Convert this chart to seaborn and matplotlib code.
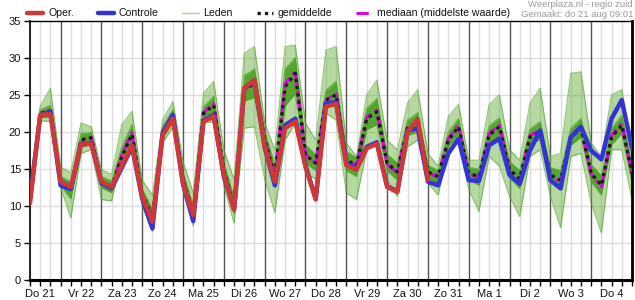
import numpy as np
import pandas as pd
import matplotlib
matplotlib.use("Agg")
import matplotlib.pyplot as plt
from matplotlib.lines import Line2D
import seaborn as sns

sns.set_theme(style="white")
plt.rcParams["font.family"] = ["Liberation Sans", "DejaVu Sans"]

# ---------------- data (6-hourly, from do 21 aug 06:00) ----------------
times = pd.date_range("2025-08-21 06:00", periods=60, freq="6h")

oper = [10.4, 22.3, 22.4, 13.3, 12.6, 18.3, 18.4, 13.3, 12.6, 15.5,
        18.2, 11.3, 7.9, 19.6, 21.8, 13.0, 8.8, 21.4, 22.1, 14.2,
        9.5, 25.9, 27.0, 18.0, 13.3, 20.5, 21.4, 15.3, 10.9, 23.4,
        23.8, 15.5, 14.9, 17.8, 18.4, 12.6, 11.9, 20.0, 21.7, 13.5]

controle = [11.0, 22.2, 22.8, 12.8, 12.3, 18.3, 18.5, 13.1, 12.4, 15.2,
            18.0, 11.0, 7.0, 19.8, 22.3, 13.0, 8.0, 21.5, 22.3, 14.0,
            9.6, 25.8, 27.0, 17.9, 12.8, 20.9, 21.8, 15.5, 11.0, 23.9,
            24.0, 15.8, 15.1, 18.0, 18.6, 12.7, 12.0, 20.2, 20.5, 13.3,
            12.8, 17.1, 19.1, 13.5, 13.4, 18.2, 19.1, 14.2, 13.0, 17.5,
            20.2, 13.5, 12.4, 19.3, 20.7, 17.5, 16.3, 21.8, 24.3, 17.8]

gemiddelde = [10.8, 22.5, 22.8, 13.0, 12.2, 18.9, 19.2, 13.3, 12.5, 16.7,
              19.7, 11.5, 8.6, 20.0, 22.2, 13.5, 9.0, 22.5, 23.6, 14.8,
              9.9, 25.8, 26.5, 18.9, 14.1, 26.1, 27.9, 16.9, 15.8, 24.3,
              25.0, 16.2, 15.5, 21.8, 22.7, 15.8, 14.6, 20.5, 21.3, 14.6,
              14.0, 18.9, 20.7, 14.4, 14.0, 19.6, 20.7, 14.9, 13.7, 19.3,
              20.0, 14.2, 13.5, 19.3, 20.5, 14.4, 12.8, 19.3, 20.9, 14.4]

mediaan = [10.8, 22.5, 22.9, 13.0, 12.3, 19.0, 19.3, 13.3, 12.5, 16.9,
           19.9, 11.5, 8.4, 20.1, 22.3, 13.4, 8.8, 22.6, 23.8, 14.8,
           9.8, 25.9, 26.7, 19.0, 14.0, 26.5, 28.2, 17.0, 15.7, 24.4,
           25.1, 16.2, 15.4, 22.0, 22.9, 15.7, 14.5, 20.6, 21.4, 14.5,
           13.9, 19.1, 20.9, 14.3, 13.9, 19.8, 20.9, 14.8, 13.5, 19.5,
           20.2, 14.1, 13.3, 19.5, 20.7, 14.3, 12.6, 19.5, 21.1, 14.3]

leden_min = [10.3, 21.5, 21.4, 12.5, 8.4, 17.1, 17.6, 10.9, 10.7, 16.7,
             18.9, 10.0, 6.6, 18.5, 20.7, 12.0, 7.3, 21.2, 21.4, 12.7,
             7.7, 20.5, 20.7, 13.6, 9.1, 18.9, 21.2, 14.5, 13.6, 22.5,
             21.6, 11.8, 10.9, 17.6, 18.9, 13.6, 11.3, 18.0, 18.9, 13.1,
             11.5, 17.6, 18.9, 12.2, 9.3, 16.7, 15.4, 11.3, 8.6, 16.7,
             17.6, 11.3, 7.1, 16.7, 17.1, 10.4, 6.4, 17.6, 17.6, 10.9]

leden_max = [13.3, 23.5, 25.9, 15.3, 14.5, 21.2, 20.7, 14.9, 14.3, 21.0,
             22.8, 13.5, 11.5, 21.6, 24.1, 16.0, 11.8, 25.2, 26.8, 17.6,
             13.6, 30.6, 31.5, 21.2, 17.6, 31.5, 31.7, 21.2, 18.9, 31.0,
             31.5, 18.5, 16.7, 25.0, 27.0, 18.9, 17.6, 23.9, 25.7, 17.1,
             15.4, 22.1, 23.7, 16.2, 16.2, 23.7, 25.0, 17.6, 16.2, 23.9,
             25.9, 16.7, 17.1, 27.9, 28.1, 18.5, 16.7, 25.0, 25.7, 16.7]

leden_p25 = [10.5, 21.9, 22.0, 12.8, 11.0, 18.0, 18.3, 12.5, 11.8, 15.8,
             18.6, 10.8, 7.6, 19.2, 21.3, 12.8, 8.3, 21.8, 22.5, 13.8,
             9.0, 24.2, 24.6, 17.4, 12.8, 23.5, 25.2, 15.8, 14.8, 23.4,
             23.5, 14.8, 14.0, 20.3, 21.0, 14.8, 13.5, 19.5, 20.0, 13.8,
             13.1, 18.0, 19.8, 13.6, 12.8, 18.5, 19.5, 13.8, 12.4, 18.3,
             19.0, 13.3, 12.2, 18.2, 19.3, 13.3, 11.5, 18.3, 19.8, 13.2]

leden_p75 = [12.0, 23.0, 23.6, 14.0, 13.3, 19.8, 19.9, 14.0, 13.4, 18.0,
             21.0, 12.3, 9.6, 20.8, 23.0, 14.6, 10.0, 23.4, 24.8, 15.8,
             11.2, 27.6, 28.5, 20.2, 15.5, 28.5, 30.0, 18.3, 16.9, 25.6,
             26.8, 17.4, 16.5, 23.2, 24.5, 17.0, 15.8, 21.6, 22.6, 15.5,
             14.8, 20.0, 21.8, 15.2, 15.0, 20.8, 21.9, 16.0, 14.8, 20.4,
             21.4, 15.2, 14.8, 20.5, 21.8, 15.6, 14.1, 20.5, 22.2, 15.6]

day_labels = ["Do 21", "Vr 22", "Za 23", "Zo 24", "Ma 25", "Di 26", "Wo 27",
              "Do 28", "Vr 29", "Za 30", "Zo 31", "Ma 1", "Di 2", "Wo 3", "Do 4"]

# ---------------- figure ----------------
W, H = 635, 300
fig = plt.figure(figsize=(W / 100, H / 100), dpi=100)
ax = fig.add_axes([30 / W, 19.6 / H, 602 / W, 259.8 / H])

x_end = pd.Timestamp("2025-09-05 00:00")
ax.set_xlim(times[0], x_end)
ax.set_ylim(0, 35)

# grid
for y in range(5, 35, 5):
    ax.axhline(y, color="#dcdcdc", lw=1, zorder=0)
tick_times = pd.date_range(times[0], x_end, freq="6h")
for t in tick_times:
    ax.axvline(t, color="#555555" if t.hour == 0 else "#dcdcdc", lw=1, zorder=0.5)

# ensemble members (Leden) as bands
ax.fill_between(times, leden_min, leden_max, color="#6cb544", alpha=0.5, lw=0, zorder=1)
ax.fill_between(times, leden_p25, leden_p75, color="#3c9a14", alpha=0.8, lw=0, zorder=1.1)
for arr, a in [(leden_min, 0.6), (leden_max, 0.6), (leden_p25, 0.7), (leden_p75, 0.7)]:
    sns.lineplot(x=times, y=arr, color="#4aa020", lw=0.8, alpha=a, ax=ax, zorder=1.2)

df = pd.DataFrame({"tijd": times, "gemiddelde": gemiddelde, "mediaan": mediaan,
                   "controle": controle})
sns.lineplot(data=df, x="tijd", y="mediaan", color="#e000e0", lw=2.2,
             linestyle=(0, (4, 1.5, 1, 1.5)), ax=ax, zorder=3)
sns.lineplot(data=df, x="tijd", y="gemiddelde", color="#1a1a1a", lw=2.4,
             linestyle=(0, (1, 1.2)), ax=ax, zorder=3.1)
sns.lineplot(data=df, x="tijd", y="controle", color="#3434d4", lw=3.2, ax=ax, zorder=4)
sns.lineplot(x=times[:len(oper)], y=oper, color="#d03838", lw=3.2, ax=ax, zorder=5)

# axes styling
ax.set_xlabel("")
ax.set_ylabel("")
ax.set_yticks(range(0, 36, 5))
ax.set_yticklabels([str(v) for v in range(0, 36, 5)], fontsize=8, color="#111111")
ax.set_xticks(tick_times)
lbls = []
k = 0
for t in tick_times:
    if t.hour == 12:
        lbls.append(day_labels[k])
        k += 1
    else:
        lbls.append("")
ax.set_xticklabels(lbls, fontsize=8, color="#111111")
ax.tick_params(axis="both", which="major", direction="out", length=4, width=1,
               color="black", pad=2.5, bottom=True, left=True)
for side, lw in [("left", 1.2), ("top", 1.0), ("right", 2.0), ("bottom", 2.2)]:
    ax.spines[side].set_visible(True)
    ax.spines[side].set_color("black")
    ax.spines[side].set_linewidth(lw)

# legend
handles = [
    Line2D([], [], color="#d03838", lw=3.2),
    Line2D([], [], color="#3434d4", lw=3.2),
    Line2D([], [], color="#a8d094", lw=1.0),
    Line2D([], [], color="#1a1a1a", lw=2.4, linestyle=(0, (1, 1.2))),
    Line2D([], [], color="#e000e0", lw=2.2, linestyle=(0, (4, 1.5, 1, 1.5))),
]
labels = ["Oper.", "Controle", "Leden", "gemiddelde", "mediaan (middelste waarde)"]
fig.legend(handles, labels, loc="center left", bbox_to_anchor=(27 / W, 1 - 13.5 / H),
           ncol=5, frameon=False, fontsize=7.6, handlelength=1.55, handletextpad=0.45,
           columnspacing=2.25, borderaxespad=0, borderpad=0, labelcolor="#111111")

fig.text(633 / W, 1 - 4.5 / H, "Weerplaza.nl - regio zuid", ha="right", va="center",
         fontsize=6.8, color="#999999")
fig.text(633 / W, 1 - 14.5 / H, "Gemaakt: do 21 aug 09:01", ha="right", va="center",
         fontsize=6.8, color="#999999")

fig.savefig("out.png", dpi=100)
